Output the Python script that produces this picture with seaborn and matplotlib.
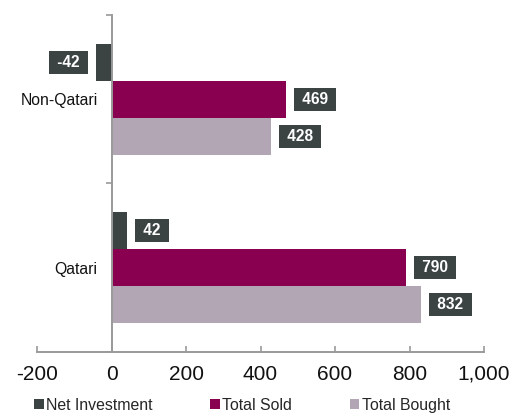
import matplotlib
matplotlib.use("Agg")
import matplotlib.pyplot as plt
from matplotlib.patches import Patch
import seaborn as sns
import pandas as pd

investors = ["Non-Qatari", "Qatari"]
series = ["Net Investment", "Total Sold", "Total Bought"]
net_investment = [-42, 42]
total_sold = [469, 790]
total_bought = [428, 832]
colors = ["#3b4443", "#8a0050", "#b2a6b4"]
x_ticks = [-200, 0, 200, 400, 600, 800, 1000]

rows = []
for name, vals in zip(series, [net_investment, total_sold, total_bought]):
    for inv, v in zip(investors, vals):
        rows.append({"investor": inv, "flow": name, "value": v})
df = pd.DataFrame(rows)

sns.set_theme(style="white")
plt.rcParams["font.family"] = ["Liberation Sans", "DejaVu Sans"]

fig = plt.figure(figsize=(5.22, 4.15), dpi=100)
ax = fig.add_axes([37 / 522, 1 - 352 / 415, 447 / 522, 337 / 415])

sns.barplot(data=df, x="value", y="investor", hue="flow", order=investors,
            hue_order=series, palette=colors, orient="h", width=0.66,
            errorbar=None, linewidth=0, saturation=1, legend=False, ax=ax)

ax.set_xlim(-200, 1000)
ax.set_ylim(1.5, -0.5)
ax.set_xlabel("")
ax.set_ylabel("")

spine_col = "#9a9a9a"
for s in ["top", "right"]:
    ax.spines[s].set_visible(False)
ax.spines["left"].set_position(("data", 0))
for s in ["left", "bottom"]:
    ax.spines[s].set_color(spine_col)
    ax.spines[s].set_linewidth(1.4)

ax.set_xticks(x_ticks)
ax.set_xticklabels([f"{t:,}" for t in x_ticks])
ax.tick_params(axis="x", direction="in", length=4, width=1.2, color=spine_col,
               labelsize=15, pad=9, labelcolor="#111111", bottom=True)
ax.set_yticks([0, 1])
ax.set_yticklabels(investors)
ax.set_yticks([-0.5, 0.5, 1.5], minor=True)
ax.tick_params(axis="y", which="major", length=0, labelsize=11.3, pad=10,
               labelcolor="#111111")
ax.tick_params(axis="y", which="minor", direction="out", length=4, width=1.2,
               color=spine_col, left=True)

# value tags beside each bar
for bar, val in zip(ax.patches, [v for vals in [net_investment, total_sold, total_bought] for v in vals]):
    y = bar.get_y() + bar.get_height() / 2
    if val < 0:
        xy, off, ha = (val, y), (-8.6, 0), "right"
    else:
        xy, off, ha = (val, y), (8.6, 0), "left"
    ax.annotate(f" {val} ", xy=xy, xytext=off, textcoords="offset points",
                ha=ha, va="center", color="white", fontsize=11.2, fontweight="bold",
                bbox=dict(boxstyle="square,pad=0.25", fc="#3b4443", ec="none"))

handles = [Patch(facecolor=c, edgecolor="none") for c in colors]
fig.legend(handles, series, loc="center left", bbox_to_anchor=(34 / 522, 1 - 405 / 415),
           ncol=3, frameon=False, fontsize=11.4, handlelength=0.6, handleheight=0.6,
           handletextpad=0.15, columnspacing=3.65, borderpad=0, borderaxespad=0)

fig.savefig("out.png", dpi=100)
